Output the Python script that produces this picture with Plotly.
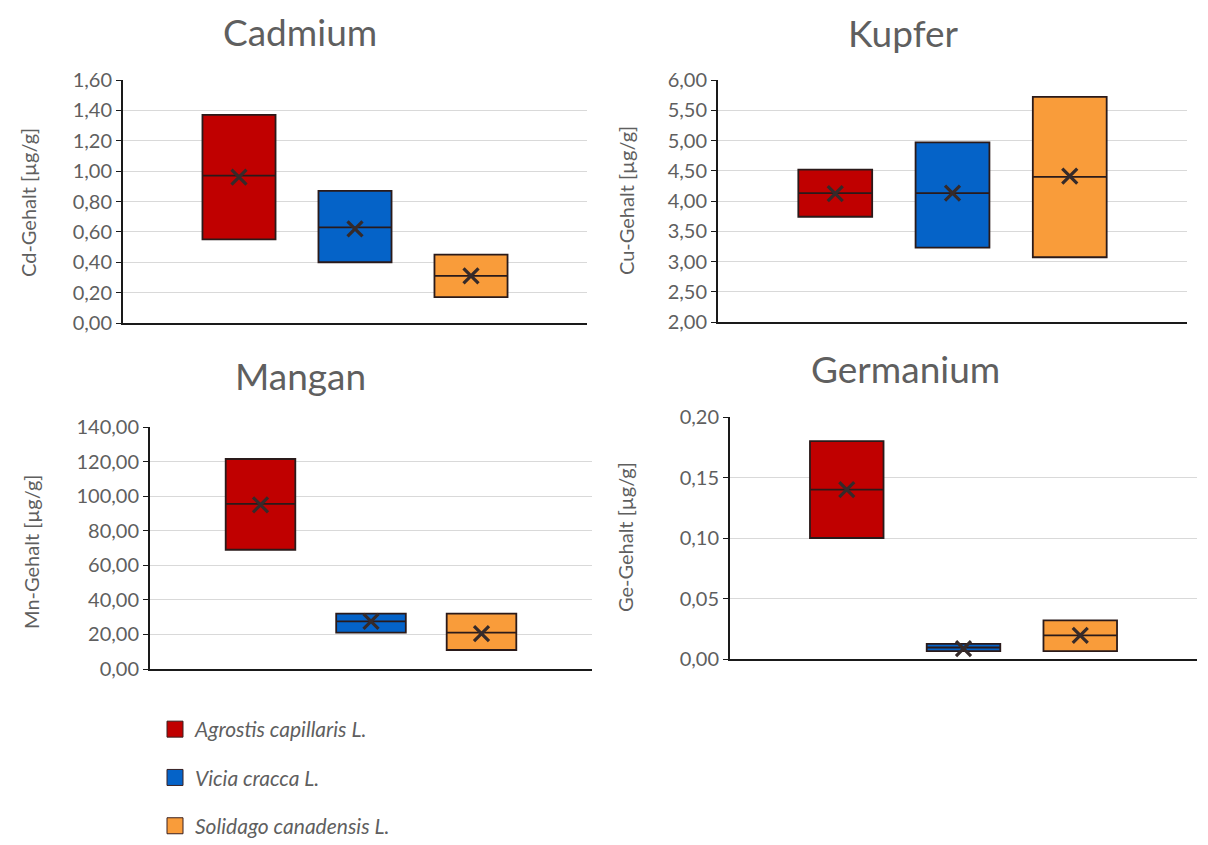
import plotly.graph_objects as go
from plotly.subplots import make_subplots

species = ["Agrostis capillaris L.", "Vicia cracca L.", "Solidago canadensis L."]
colors = ["#C00000", "#0563C8", "#F99C3A"]

titles = ["Cadmium", "Kupfer", "Mangan", "Germanium"]
ytitles = ["Cd-Gehalt [µg/g]", "Cu-Gehalt [µg/g]", "Mn-Gehalt [µg/g]", "Ge-Gehalt [µg/g]"]

cd_q1 = [0.55, 0.40, 0.17]
cd_med = [0.97, 0.63, 0.31]
cd_q3 = [1.37, 0.87, 0.45]
cd_mean = [0.96, 0.62, 0.31]

cu_q1 = [3.74, 3.23, 3.07]
cu_med = [4.13, 4.13, 4.40]
cu_q3 = [4.52, 4.97, 5.72]
cu_mean = [4.12, 4.13, 4.41]

mn_q1 = [69.0, 21.0, 11.0]
mn_med = [95.5, 27.5, 21.0]
mn_q3 = [121.5, 32.0, 32.0]
mn_mean = [95.0, 27.5, 20.5]

ge_q1 = [0.100, 0.0065, 0.0065]
ge_med = [0.140, 0.0095, 0.0195]
ge_q3 = [0.180, 0.0125, 0.032]
ge_mean = [0.140, 0.0085, 0.0195]

yranges = [[0, 1.6], [2, 6], [0, 140], [0, 0.2]]
ydticks = [0.2, 0.5, 20, 0.05]

datasets = [
    (cd_q1, cd_med, cd_q3, cd_mean),
    (cu_q1, cu_med, cu_q3, cu_mean),
    (mn_q1, mn_med, mn_q3, mn_mean),
    (ge_q1, ge_med, ge_q3, ge_mean),
]

W, H = 1208, 845
# plot-area pixel boxes (left, right, top, bottom)
areas = [(123, 587, 80, 323), (718, 1187, 80, 322), (150, 592, 427, 669), (730, 1197, 417, 659)]
title_pos = [(300, 32), (903, 33), (300, 375), (905, 368)]
ytitle_pos = [(28, 203), (626, 201), (31, 552), (625, 537)]

fig = make_subplots(rows=2, cols=2)
grey = "#5f5f5f"
font_fam = "Lato, 'Open Sans', sans-serif"

for i, (q1, med, q3, mean) in enumerate(datasets):
    r, c = i // 2 + 1, i % 2 + 1
    for j, sp in enumerate(species):
        fig.add_trace(go.Box(
            x=[sp], q1=[q1[j]], median=[med[j]], q3=[q3[j]],
            lowerfence=[q1[j]], upperfence=[q3[j]],
            name=sp, legendgroup=sp, showlegend=False,
            fillcolor=colors[j], line=dict(color="#2a1a1a", width=1.8),
            whiskerwidth=0, boxpoints=False,
        ), row=r, col=c)
    fig.add_trace(go.Scatter(
        x=species, y=mean, mode="markers", showlegend=False,
        marker=dict(symbol="x-thin", size=15, line=dict(width=3.2, color="#352a2a")),
        hoverinfo="y",
    ), row=r, col=c)

for j, sp in enumerate(species):
    fig.add_trace(go.Scatter(
        x=[None], y=[None], mode="markers", name=sp, legendgroup=sp, showlegend=True,
        marker=dict(symbol="square", size=16, color=colors[j], line=dict(color="#3a2020", width=1)),
    ), row=1, col=1)

layout_upd = {}
for i in range(4):
    l, rgt, t, b = areas[i]
    sx = "" if i == 0 else str(i + 1)
    layout_upd["xaxis" + sx] = dict(
        domain=[l / W, rgt / W], type="category", categoryarray=species,
        range=[-1.0, 3.0], showticklabels=False, showgrid=False,
        showline=True, linecolor="#1a1a1a", linewidth=1.5, ticks="", zeroline=False,
    )
    layout_upd["yaxis" + sx] = dict(
        domain=[1 - b / H, 1 - t / H], range=yranges[i], dtick=ydticks[i],
        tick0=yranges[i][0], tickformat=".2f", showgrid=True, gridcolor="#d9d9d9",
        gridwidth=1.2, showline=True, linecolor="#1a1a1a", linewidth=2,
        ticks="outside", ticklen=5, tickcolor="#1a1a1a", zeroline=False,
        tickfont=dict(size=20, color=grey, family=font_fam),
    )
fig.update_layout(**layout_upd)

annotations = []
for i in range(4):
    tx, ty = title_pos[i]
    annotations.append(dict(text=titles[i], x=tx / W, y=1 - ty / H, xref="paper", yref="paper",
                            showarrow=False, font=dict(size=37, color=grey, family=font_fam),
                            xanchor="center", yanchor="middle"))
    ax, ay = ytitle_pos[i]
    annotations.append(dict(text=ytitles[i], x=ax / W, y=1 - ay / H, xref="paper", yref="paper",
                            showarrow=False, textangle=-90,
                            font=dict(size=20, color=grey, family=font_fam),
                            xanchor="center", yanchor="middle"))

fig.update_layout(
    width=W, height=H, margin=dict(l=0, r=0, t=0, b=0, autoexpand=False),
    paper_bgcolor="white", plot_bgcolor="white",
    separators=",.", boxgap=0.1, annotations=annotations,
    legend=dict(x=155 / W, y=1 - 709 / H, xanchor="left", yanchor="top",
                font=dict(size=21, color=grey, family=font_fam, style="italic"),
                tracegroupgap=18, itemsizing="trace", bgcolor="rgba(0,0,0,0)"),
    font=dict(family=font_fam, color=grey),
)

fig.write_html("out.html", config={"displayModeBar": False},
               post_script="document.body.style.margin='0';document.body.style.overflow='hidden';")
